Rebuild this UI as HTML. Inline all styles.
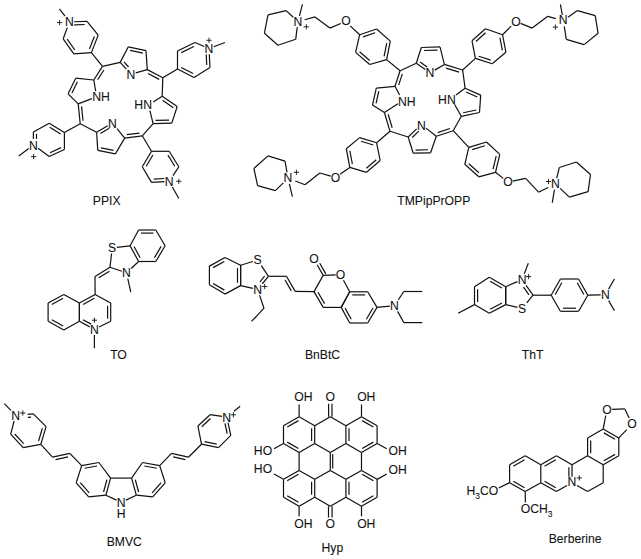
<!DOCTYPE html>
<html><head><meta charset="utf-8"><style>
html,body{margin:0;padding:0;background:#fff;width:641px;height:559px;overflow:hidden}
svg{display:block}
text{font-family:"Liberation Sans",sans-serif}
</style></head><body>
<svg width="641" height="559" viewBox="0 0 641 559">
<g stroke="#111" stroke-width="1.2" stroke-linecap="butt" fill="none">
<line x1="74.1" y1="21.74" x2="87" y2="21.3"/>
<line x1="74.21" y1="24.84" x2="84.64" y2="24.48"/>
<line x1="87" y1="21.3" x2="98.2" y2="35.1"/>
<line x1="98.2" y1="35.1" x2="91.4" y2="52.6"/>
<line x1="94.36" y1="36.43" x2="89.46" y2="49.03"/>
<line x1="91.4" y1="52.6" x2="73.8" y2="53.9"/>
<line x1="73.8" y1="53.9" x2="63.2" y2="38.8"/>
<line x1="74.85" y1="50" x2="67.22" y2="39.13"/>
<line x1="63.2" y1="38.8" x2="67.31" y2="27.6"/>
<line x1="65.05" y1="16.2" x2="59.4" y2="8.8"/>
<path d="M57 22.6H62.2M59.6 20V25.2" stroke-width="0.9"/>
<line x1="91.4" y1="52.6" x2="102.5" y2="66.4"/>
<line x1="93.8" y1="80" x2="75.7" y2="78.2"/>
<line x1="75.7" y1="78.2" x2="68.1" y2="93.8"/>
<line x1="77.42" y1="81.74" x2="71.95" y2="92.97"/>
<line x1="68.1" y1="93.8" x2="78.2" y2="103.9"/>
<line x1="78.2" y1="103.9" x2="91.9" y2="98.61"/>
<line x1="95.65" y1="91.1" x2="93.8" y2="80"/>
<line x1="102.5" y1="66.4" x2="93.8" y2="80"/>
<line x1="103.89" y1="69.97" x2="97.63" y2="79.77"/>
<line x1="78.2" y1="103.9" x2="80.2" y2="123.8"/>
<line x1="81.56" y1="106.38" x2="83" y2="120.7"/>
<line x1="96.6" y1="132.2" x2="107.7" y2="125.67"/>
<line x1="100.38" y1="133.57" x2="109.27" y2="128.34"/>
<line x1="117.01" y1="128.6" x2="124.7" y2="138.1"/>
<line x1="124.7" y1="138.1" x2="115.4" y2="153.9"/>
<line x1="115.4" y1="153.9" x2="97.8" y2="150.4"/>
<line x1="113.54" y1="150.37" x2="100.87" y2="147.85"/>
<line x1="97.8" y1="150.4" x2="96.6" y2="132.2"/>
<line x1="80.2" y1="123.8" x2="96.6" y2="132.2"/>
<line x1="124.7" y1="138.1" x2="142.3" y2="135.8"/>
<line x1="126.76" y1="134.7" x2="139.43" y2="133.05"/>
<line x1="162.2" y1="96.3" x2="177.2" y2="106.5"/>
<line x1="162.56" y1="100.29" x2="173.36" y2="107.64"/>
<line x1="177.2" y1="106.5" x2="171.8" y2="123.1"/>
<line x1="171.8" y1="123.1" x2="153.1" y2="123.6"/>
<line x1="169.1" y1="120.07" x2="155.64" y2="120.43"/>
<line x1="153.1" y1="123.6" x2="149.91" y2="110.7"/>
<line x1="153.2" y1="102.02" x2="162.2" y2="96.3"/>
<line x1="153.1" y1="123.6" x2="142.3" y2="135.8"/>
<line x1="162.2" y1="96.3" x2="162.8" y2="77.8"/>
<line x1="120.2" y1="62.4" x2="128.3" y2="46.8"/>
<line x1="128.3" y1="46.8" x2="146" y2="50.7"/>
<line x1="130.11" y1="50.37" x2="142.85" y2="53.18"/>
<line x1="146" y1="50.7" x2="147.3" y2="69.6"/>
<line x1="147.3" y1="69.6" x2="135.7" y2="72.87"/>
<line x1="126.3" y1="69.06" x2="120.2" y2="62.4"/>
<line x1="128.59" y1="66.97" x2="124" y2="61.96"/>
<line x1="102.5" y1="66.4" x2="120.2" y2="62.4"/>
<line x1="147.3" y1="69.6" x2="162.8" y2="77.8"/>
<line x1="148.02" y1="73.49" x2="159.18" y2="79.39"/>
<line x1="177.5" y1="69" x2="177.5" y2="51"/>
<line x1="177.5" y1="51" x2="195" y2="42.5"/>
<line x1="181.3" y1="52.6" x2="193.9" y2="46.48"/>
<line x1="195" y1="42.5" x2="204.3" y2="46.49"/>
<line x1="209.3" y1="54.2" x2="210" y2="67.5"/>
<line x1="206.2" y1="54.36" x2="206.76" y2="65"/>
<line x1="210" y1="67.5" x2="194" y2="77.5"/>
<line x1="194" y1="77.5" x2="177.5" y2="69"/>
<line x1="193.11" y1="73.55" x2="181.23" y2="67.43"/>
<line x1="162.8" y1="77.8" x2="177.5" y2="69"/>
<line x1="213.7" y1="46.74" x2="225" y2="42.5"/>
<path d="M206.4 40.3H211.6M209 37.7V42.9" stroke-width="0.9"/>
<line x1="64.4" y1="132.6" x2="49.2" y2="123.2"/>
<line x1="60.64" y1="133.92" x2="49.7" y2="127.15"/>
<line x1="49.2" y1="123.2" x2="33.4" y2="132"/>
<line x1="33.4" y1="132" x2="33.4" y2="139.1"/>
<line x1="36.5" y1="133.79" x2="36.5" y2="139.1"/>
<line x1="38.1" y1="148.28" x2="49.2" y2="156.5"/>
<line x1="49.2" y1="156.5" x2="64.4" y2="149.5"/>
<line x1="50.03" y1="152.7" x2="60.98" y2="147.66"/>
<line x1="64.4" y1="149.5" x2="64.4" y2="132.6"/>
<line x1="80.2" y1="123.8" x2="64.4" y2="132.6"/>
<line x1="28.7" y1="148.41" x2="18.8" y2="156"/>
<path d="M31 156.6H36.2M33.6 154V159.2" stroke-width="0.9"/>
<line x1="151.5" y1="151.3" x2="169.2" y2="151.3"/>
<line x1="169.2" y1="151.3" x2="178.8" y2="166.8"/>
<line x1="167.91" y1="155.1" x2="174.82" y2="166.26"/>
<line x1="178.8" y1="166.8" x2="172.97" y2="175.6"/>
<line x1="164.5" y1="181.59" x2="151.5" y2="182.4"/>
<line x1="164.31" y1="178.5" x2="153.79" y2="179.15"/>
<line x1="151.5" y1="182.4" x2="142.3" y2="166.8"/>
<line x1="142.3" y1="166.8" x2="151.5" y2="151.3"/>
<line x1="146.25" y1="166.21" x2="152.88" y2="155.05"/>
<line x1="142.3" y1="135.8" x2="151.5" y2="151.3"/>
<line x1="172.38" y1="187" x2="178.8" y2="198.5"/>
<path d="M176.2 181.3H181.4M178.8 178.7V183.9" stroke-width="0.9"/>
<line x1="416.3" y1="63.2" x2="421.3" y2="47.5"/>
<line x1="421.3" y1="47.5" x2="440" y2="46.9"/>
<line x1="424.02" y1="50.51" x2="437.48" y2="50.08"/>
<line x1="440" y1="46.9" x2="444.4" y2="64.4"/>
<line x1="444.4" y1="64.4" x2="434.7" y2="70.13"/>
<line x1="425.3" y1="69.57" x2="416.3" y2="63.2"/>
<line x1="427.09" y1="67.04" x2="420.01" y2="62.03"/>
<line x1="400.1" y1="70.7" x2="416.3" y2="63.2"/>
<line x1="444.4" y1="64.4" x2="462.6" y2="70"/>
<line x1="446.04" y1="68.15" x2="459.14" y2="72.18"/>
<line x1="465.1" y1="88.2" x2="480.7" y2="95.1"/>
<line x1="466.03" y1="92" x2="477.26" y2="96.97"/>
<line x1="480.7" y1="95.1" x2="479.5" y2="112.5"/>
<line x1="479.5" y1="112.5" x2="461.3" y2="116.3"/>
<line x1="476.32" y1="110" x2="463.21" y2="112.73"/>
<line x1="461.3" y1="116.3" x2="454.5" y2="104.2"/>
<line x1="456" y1="94.99" x2="465.1" y2="88.2"/>
<line x1="462.6" y1="70" x2="465.1" y2="88.2"/>
<line x1="461.3" y1="116.3" x2="453.2" y2="130.7"/>
<line x1="436.3" y1="136.3" x2="430.6" y2="152.8"/>
<line x1="430.6" y1="152.8" x2="413.2" y2="153.2"/>
<line x1="428.09" y1="149.76" x2="415.56" y2="150.04"/>
<line x1="413.2" y1="153.2" x2="408.2" y2="137"/>
<line x1="408.2" y1="137" x2="416.6" y2="128.92"/>
<line x1="412.18" y1="137.47" x2="418.75" y2="131.15"/>
<line x1="426" y1="128.13" x2="436.3" y2="136.3"/>
<line x1="453.2" y1="130.7" x2="436.3" y2="136.3"/>
<line x1="449.86" y1="128.54" x2="437.69" y2="132.57"/>
<line x1="408.2" y1="137" x2="390" y2="131.3"/>
<line x1="395" y1="86.3" x2="376.3" y2="88.2"/>
<line x1="376.3" y1="88.2" x2="372.5" y2="105.1"/>
<line x1="378.79" y1="91.25" x2="376.06" y2="103.41"/>
<line x1="372.5" y1="105.1" x2="384.4" y2="112.5"/>
<line x1="384.4" y1="112.5" x2="397.9" y2="103.75"/>
<line x1="399.59" y1="95" x2="395" y2="86.3"/>
<line x1="400.1" y1="70.7" x2="395" y2="86.3"/>
<line x1="402.33" y1="73.85" x2="398.66" y2="85.08"/>
<line x1="384.4" y1="112.5" x2="390" y2="131.3"/>
<line x1="388.15" y1="114.25" x2="392.19" y2="127.78"/>
<line x1="359.7" y1="34.7" x2="376.6" y2="29"/>
<line x1="363.06" y1="36.84" x2="375.22" y2="32.74"/>
<line x1="376.6" y1="29" x2="390.3" y2="41.1"/>
<line x1="390.3" y1="41.1" x2="386.6" y2="59.6"/>
<line x1="386.74" y1="43.08" x2="384.08" y2="56.4"/>
<line x1="386.6" y1="59.6" x2="369.7" y2="64.5"/>
<line x1="369.7" y1="64.5" x2="355.6" y2="52.4"/>
<line x1="369.74" y1="60.45" x2="359.59" y2="51.74"/>
<line x1="355.6" y1="52.4" x2="359.7" y2="34.7"/>
<line x1="386.6" y1="59.6" x2="400.1" y2="70.7"/>
<line x1="359.7" y1="34.7" x2="350.2" y2="25.87"/>
<line x1="340.8" y1="23.48" x2="329.8" y2="28.1"/>
<line x1="329.8" y1="28.1" x2="315" y2="16.9"/>
<line x1="315" y1="16.9" x2="304.6" y2="19.71"/>
<path d="M303.7 26.8H308.9M306.3 24.2V29.4" stroke-width="0.9"/>
<line x1="299.47" y1="15.8" x2="302.4" y2="4.4"/>
<line x1="293.3" y1="17.19" x2="286.1" y2="10.6"/>
<line x1="286.1" y1="10.6" x2="268" y2="14.8"/>
<line x1="268" y1="14.8" x2="264.4" y2="33.3"/>
<line x1="264.4" y1="33.3" x2="278" y2="45.2"/>
<line x1="278" y1="45.2" x2="295.7" y2="39.3"/>
<line x1="295.7" y1="39.3" x2="297.26" y2="27.2"/>
<line x1="475.4" y1="58.4" x2="472" y2="40.8"/>
<line x1="472" y1="40.8" x2="485.4" y2="28.8"/>
<line x1="475.94" y1="41.43" x2="485.59" y2="32.79"/>
<line x1="485.4" y1="28.8" x2="502.5" y2="34.7"/>
<line x1="502.5" y1="34.7" x2="505.9" y2="52.2"/>
<line x1="499.93" y1="37.74" x2="502.38" y2="50.34"/>
<line x1="505.9" y1="52.2" x2="492.2" y2="63.8"/>
<line x1="492.2" y1="63.8" x2="475.4" y2="58.4"/>
<line x1="490.8" y1="60.09" x2="478.7" y2="56.2"/>
<line x1="462.6" y1="70" x2="475.4" y2="58.4"/>
<line x1="502.5" y1="34.7" x2="511.2" y2="26.13"/>
<line x1="520.6" y1="23.4" x2="532.2" y2="28.1"/>
<line x1="532.2" y1="28.1" x2="547.8" y2="16.3"/>
<line x1="547.8" y1="16.3" x2="555.8" y2="18.57"/>
<path d="M552.8 27.1H558M555.4 24.5V29.7" stroke-width="0.9"/>
<line x1="562.29" y1="15" x2="560.4" y2="4.4"/>
<line x1="568" y1="17.33" x2="577.4" y2="10.6"/>
<line x1="577.4" y1="10.6" x2="595.2" y2="15.6"/>
<line x1="595.2" y1="15.6" x2="598.1" y2="33.3"/>
<line x1="598.1" y1="33.3" x2="584.1" y2="44.6"/>
<line x1="584.1" y1="44.6" x2="566.3" y2="39.3"/>
<line x1="566.3" y1="39.3" x2="564.22" y2="26.4"/>
<line x1="376.6" y1="142.8" x2="380.2" y2="160.5"/>
<line x1="380.2" y1="160.5" x2="366.5" y2="172.3"/>
<line x1="376.26" y1="159.8" x2="366.39" y2="168.3"/>
<line x1="366.5" y1="172.3" x2="349.8" y2="167.4"/>
<line x1="349.8" y1="167.4" x2="346.3" y2="148.7"/>
<line x1="352.36" y1="164.21" x2="349.84" y2="150.75"/>
<line x1="346.3" y1="148.7" x2="359.6" y2="137.6"/>
<line x1="359.6" y1="137.6" x2="376.6" y2="142.8"/>
<line x1="361.07" y1="141.29" x2="373.31" y2="145.04"/>
<line x1="390" y1="131.3" x2="376.6" y2="142.8"/>
<line x1="349.8" y1="167.4" x2="340.1" y2="174.14"/>
<line x1="330.7" y1="176.07" x2="319.8" y2="173"/>
<line x1="319.8" y1="173" x2="305" y2="184.8"/>
<line x1="305" y1="184.8" x2="295.3" y2="180.98"/>
<path d="M293.8 172.3H299M296.4 169.7V174.9" stroke-width="0.9"/>
<line x1="289.35" y1="183.8" x2="292.4" y2="196.7"/>
<line x1="286.99" y1="172.4" x2="285" y2="161.1"/>
<line x1="285" y1="161.1" x2="268" y2="155.9"/>
<line x1="268" y1="155.9" x2="253.9" y2="168.5"/>
<line x1="253.9" y1="168.5" x2="257.6" y2="185.6"/>
<line x1="257.6" y1="185.6" x2="275.4" y2="190.7"/>
<line x1="275.4" y1="190.7" x2="283.3" y2="182.8"/>
<line x1="468.8" y1="147.4" x2="486.5" y2="142"/>
<line x1="472.18" y1="149.61" x2="484.93" y2="145.72"/>
<line x1="486.5" y1="142" x2="499.8" y2="154.4"/>
<line x1="499.8" y1="154.4" x2="495.5" y2="172.3"/>
<line x1="496.18" y1="156.18" x2="493.09" y2="169.07"/>
<line x1="495.5" y1="172.3" x2="478.8" y2="176.8"/>
<line x1="478.8" y1="176.8" x2="464.8" y2="164.3"/>
<line x1="478.9" y1="172.74" x2="468.82" y2="163.74"/>
<line x1="464.8" y1="164.3" x2="468.8" y2="147.4"/>
<line x1="453.2" y1="130.7" x2="468.8" y2="147.4"/>
<line x1="495.5" y1="172.3" x2="503.3" y2="178.35"/>
<line x1="512.7" y1="181.04" x2="525.7" y2="178.4"/>
<line x1="525.7" y1="178.4" x2="538.5" y2="192.2"/>
<line x1="538.5" y1="192.2" x2="548.2" y2="187.44"/>
<path d="M545.9 181.5H551.1M548.5 178.9V184.1" stroke-width="0.9"/>
<line x1="554.46" y1="189.6" x2="552.3" y2="202.6"/>
<line x1="556.76" y1="178.2" x2="559.3" y2="167.5"/>
<line x1="559.3" y1="167.5" x2="576.4" y2="162"/>
<line x1="576.4" y1="162" x2="590.5" y2="174.5"/>
<line x1="590.5" y1="174.5" x2="588.1" y2="191.7"/>
<line x1="588.1" y1="191.7" x2="569.4" y2="197.1"/>
<line x1="569.4" y1="197.1" x2="560.1" y2="188.33"/>
<line x1="130.1" y1="245.8" x2="138.6" y2="230"/>
<line x1="138.6" y1="230" x2="155.8" y2="230"/>
<line x1="141.01" y1="233.1" x2="153.39" y2="233.1"/>
<line x1="155.8" y1="230" x2="165.1" y2="245.8"/>
<line x1="165.1" y1="245.8" x2="155.8" y2="261.5"/>
<line x1="161.13" y1="246.42" x2="154.43" y2="257.72"/>
<line x1="155.8" y1="261.5" x2="138.6" y2="261.5"/>
<line x1="138.6" y1="261.5" x2="130.1" y2="245.8"/>
<line x1="140.14" y1="257.83" x2="134.02" y2="246.52"/>
<line x1="116.9" y1="247.35" x2="130.1" y2="245.8"/>
<line x1="138.6" y1="261.5" x2="131.2" y2="268.47"/>
<line x1="121.8" y1="271.28" x2="110" y2="267.2"/>
<line x1="110" y1="267.2" x2="111.55" y2="253.6"/>
<line x1="127.77" y1="278.6" x2="130.8" y2="292.2"/>
<line x1="110" y1="267.2" x2="95" y2="276.5"/>
<line x1="109.53" y1="271.14" x2="98.73" y2="277.83"/>
<line x1="95" y1="276.5" x2="95.1" y2="294.4"/>
<line x1="95.1" y1="294.4" x2="110.7" y2="303.1"/>
<line x1="110.7" y1="303.1" x2="110.7" y2="321.3"/>
<line x1="107.6" y1="305.65" x2="107.6" y2="318.75"/>
<line x1="110.7" y1="321.3" x2="99.1" y2="327.06"/>
<line x1="89.7" y1="326.86" x2="79.4" y2="321.3"/>
<line x1="91.17" y1="324.13" x2="82.97" y2="319.71"/>
<line x1="79.4" y1="321.3" x2="79.4" y2="303.1"/>
<line x1="79.4" y1="303.1" x2="95.1" y2="294.4"/>
<line x1="83.1" y1="304.59" x2="94.4" y2="298.33"/>
<line x1="79.4" y1="303.1" x2="63.8" y2="294.4"/>
<line x1="63.8" y1="294.4" x2="48.1" y2="303.1"/>
<line x1="63.1" y1="298.33" x2="51.8" y2="304.59"/>
<line x1="48.1" y1="303.1" x2="48.1" y2="321.3"/>
<line x1="48.1" y1="321.3" x2="63.8" y2="330"/>
<line x1="51.8" y1="319.81" x2="63.1" y2="326.07"/>
<line x1="63.8" y1="330" x2="79.4" y2="321.3"/>
<line x1="79.4" y1="321.3" x2="79.4" y2="303.1"/>
<line x1="94.4" y1="335.1" x2="94.4" y2="348.2"/>
<path d="M91.8 320.2H97M94.4 317.6V322.8" stroke-width="0.9"/>
<line x1="240.6" y1="265.3" x2="225" y2="257.5"/>
<line x1="225" y1="257.5" x2="209.4" y2="266.1"/>
<line x1="224.31" y1="261.42" x2="213.08" y2="267.61"/>
<line x1="209.4" y1="266.1" x2="209.4" y2="284.8"/>
<line x1="209.4" y1="284.8" x2="225" y2="294.1"/>
<line x1="213.17" y1="283.44" x2="224.4" y2="290.14"/>
<line x1="225" y1="294.1" x2="240.6" y2="285.6"/>
<line x1="240.6" y1="285.6" x2="240.6" y2="265.3"/>
<line x1="237.5" y1="282.76" x2="237.5" y2="268.14"/>
<line x1="240.6" y1="265.3" x2="252.8" y2="261.47"/>
<line x1="261.35" y1="265.7" x2="268.5" y2="276.3"/>
<line x1="268.5" y1="276.3" x2="262.3" y2="283.75"/>
<line x1="264.59" y1="276.15" x2="259.92" y2="281.77"/>
<line x1="252.9" y1="288.35" x2="240.6" y2="285.6"/>
<line x1="240.6" y1="285.6" x2="240.6" y2="265.3"/>
<line x1="259.54" y1="295.1" x2="264" y2="308.2"/>
<line x1="264" y1="308.2" x2="251.5" y2="321.4"/>
<path d="M262.1 286.5H267.3M264.7 283.9V289.1" stroke-width="0.9"/>
<line x1="268.5" y1="276.3" x2="286.5" y2="276.3"/>
<line x1="286.5" y1="276.3" x2="295.2" y2="291.4"/>
<line x1="285.03" y1="279.96" x2="291.3" y2="290.83"/>
<line x1="295.2" y1="291.4" x2="314" y2="291.6"/>
<line x1="314" y1="291.6" x2="323.2" y2="275.4"/>
<line x1="323.2" y1="275.4" x2="335.7" y2="274.82"/>
<line x1="343.48" y1="280.3" x2="349.7" y2="291.8"/>
<line x1="349.7" y1="291.8" x2="341.2" y2="307.4"/>
<line x1="341.2" y1="307.4" x2="323.2" y2="307.4"/>
<line x1="323.2" y1="307.4" x2="314" y2="291.6"/>
<line x1="324.59" y1="303.63" x2="317.97" y2="292.25"/>
<line x1="323.2" y1="275.4" x2="317.13" y2="264.7"/>
<line x1="325.81" y1="273.92" x2="319.74" y2="263.22"/>
<line x1="349.7" y1="291.8" x2="367.7" y2="291.8"/>
<line x1="352.22" y1="294.9" x2="365.18" y2="294.9"/>
<line x1="367.7" y1="291.8" x2="377" y2="307.4"/>
<line x1="377" y1="307.4" x2="367.7" y2="323"/>
<line x1="373.04" y1="308" x2="366.34" y2="319.23"/>
<line x1="367.7" y1="323" x2="349.7" y2="323"/>
<line x1="349.7" y1="323" x2="341.2" y2="307.4"/>
<line x1="351.23" y1="319.33" x2="345.11" y2="308.1"/>
<line x1="341.2" y1="307.4" x2="349.7" y2="291.8"/>
<line x1="377" y1="307.4" x2="389.8" y2="306.16"/>
<line x1="398.23" y1="300" x2="403.8" y2="291.5"/>
<line x1="403.8" y1="291.5" x2="422.3" y2="291.5"/>
<line x1="397.64" y1="311.4" x2="403.8" y2="322.6"/>
<line x1="403.8" y1="322.6" x2="422.3" y2="322.6"/>
<line x1="474.5" y1="304.6" x2="474.5" y2="286.7"/>
<line x1="477.6" y1="302.09" x2="477.6" y2="289.21"/>
<line x1="474.5" y1="286.7" x2="489.3" y2="277.3"/>
<line x1="489.3" y1="277.3" x2="505.7" y2="286.7"/>
<line x1="490.05" y1="281.31" x2="501.86" y2="288.07"/>
<line x1="505.7" y1="286.7" x2="505.7" y2="304.6"/>
<line x1="505.7" y1="304.6" x2="489.3" y2="313.2"/>
<line x1="501.96" y1="303.06" x2="490.16" y2="309.25"/>
<line x1="489.3" y1="313.2" x2="474.5" y2="304.6"/>
<line x1="458.1" y1="313.2" x2="474.5" y2="304.6"/>
<line x1="505.7" y1="286.7" x2="517.4" y2="281.63"/>
<line x1="526.08" y1="285.3" x2="533" y2="295.2"/>
<line x1="523.54" y1="287.08" x2="528.93" y2="294.79"/>
<line x1="533" y1="295.2" x2="526.77" y2="302.8"/>
<line x1="517.4" y1="307.38" x2="505.7" y2="304.6"/>
<line x1="505.7" y1="304.6" x2="505.7" y2="286.7"/>
<line x1="524.27" y1="273.9" x2="528.3" y2="263.3"/>
<path d="M526 276.6H531.2M528.6 274V279.2" stroke-width="0.9"/>
<line x1="533" y1="295.2" x2="551.2" y2="295.2"/>
<line x1="551.2" y1="295.2" x2="560.4" y2="279"/>
<line x1="555.18" y1="294.46" x2="561.81" y2="282.8"/>
<line x1="560.4" y1="279" x2="578.6" y2="279"/>
<line x1="578.6" y1="279" x2="587.8" y2="295.2"/>
<line x1="577.19" y1="282.8" x2="583.82" y2="294.46"/>
<line x1="587.8" y1="295.2" x2="578.6" y2="311.3"/>
<line x1="578.6" y1="311.3" x2="560.4" y2="311.3"/>
<line x1="576.05" y1="308.2" x2="562.95" y2="308.2"/>
<line x1="560.4" y1="311.3" x2="551.2" y2="295.2"/>
<line x1="587.8" y1="295.2" x2="600.6" y2="294.91"/>
<line x1="608.58" y1="289.1" x2="614.4" y2="279"/>
<line x1="608.58" y1="300.5" x2="614.4" y2="310.6"/>
<line x1="27.6" y1="414.28" x2="33.3" y2="413.8"/>
<line x1="27.86" y1="417.37" x2="31.08" y2="417.1"/>
<line x1="33.3" y1="413.8" x2="46.1" y2="426.7"/>
<line x1="46.1" y1="426.7" x2="40.8" y2="444.4"/>
<line x1="42.39" y1="428.29" x2="38.57" y2="441.03"/>
<line x1="40.8" y1="444.4" x2="23.1" y2="447.6"/>
<line x1="23.1" y1="447.6" x2="10.7" y2="434.2"/>
<line x1="23.64" y1="443.62" x2="14.71" y2="433.97"/>
<line x1="10.7" y1="434.2" x2="14.12" y2="421"/>
<line x1="10.9" y1="410.43" x2="4.3" y2="403.6"/>
<path d="M20.2 413H25.4M22.8 410.4V415.6" stroke-width="0.9"/>
<line x1="40.8" y1="444.4" x2="52.5" y2="457.2"/>
<line x1="52.5" y1="457.2" x2="69.8" y2="453.4"/>
<line x1="55.59" y1="459.7" x2="68.04" y2="456.96"/>
<line x1="69.8" y1="453.4" x2="81.7" y2="465.6"/>
<line x1="81.7" y1="465.6" x2="98.9" y2="462.5"/>
<line x1="84.66" y1="468.22" x2="97.04" y2="465.98"/>
<line x1="98.9" y1="462.5" x2="110.6" y2="478.1"/>
<line x1="110.6" y1="478.1" x2="105.9" y2="495.2"/>
<line x1="106.95" y1="479.67" x2="103.57" y2="491.98"/>
<line x1="105.9" y1="495.2" x2="88.7" y2="496.8"/>
<line x1="88.7" y1="496.8" x2="76.2" y2="482.8"/>
<line x1="89.26" y1="492.78" x2="80.26" y2="482.7"/>
<line x1="76.2" y1="482.8" x2="81.7" y2="465.6"/>
<line x1="110.6" y1="478.1" x2="131.6" y2="478.1"/>
<line x1="105.9" y1="495.2" x2="116.5" y2="500.12"/>
<line x1="125.9" y1="500.09" x2="136.3" y2="495.2"/>
<line x1="131.6" y1="478.1" x2="142.5" y2="462.5"/>
<line x1="142.5" y1="462.5" x2="159.7" y2="465.6"/>
<line x1="144.36" y1="465.98" x2="156.74" y2="468.22"/>
<line x1="159.7" y1="465.6" x2="165.2" y2="482.8"/>
<line x1="165.2" y1="482.8" x2="152.7" y2="496.8"/>
<line x1="161.14" y1="482.7" x2="152.14" y2="492.78"/>
<line x1="152.7" y1="496.8" x2="136.3" y2="495.2"/>
<line x1="136.3" y1="495.2" x2="131.6" y2="478.1"/>
<line x1="138.63" y1="491.98" x2="135.25" y2="479.67"/>
<line x1="159.7" y1="465.6" x2="171.5" y2="453.4"/>
<line x1="171.5" y1="453.4" x2="188.4" y2="457.2"/>
<line x1="173.19" y1="456.96" x2="185.35" y2="459.69"/>
<line x1="188.4" y1="457.2" x2="201.5" y2="444.2"/>
<line x1="201.5" y1="444.2" x2="197.9" y2="426"/>
<line x1="197.9" y1="426" x2="210.1" y2="414.7"/>
<line x1="201.71" y1="426.69" x2="210.5" y2="418.56"/>
<line x1="210.1" y1="414.7" x2="222" y2="416.35"/>
<line x1="227.97" y1="422.7" x2="230.8" y2="435.4"/>
<line x1="224.94" y1="423.37" x2="227.2" y2="433.5"/>
<line x1="230.8" y1="435.4" x2="218.5" y2="447.6"/>
<line x1="218.5" y1="447.6" x2="201.5" y2="444.2"/>
<line x1="216.73" y1="444.08" x2="204.49" y2="441.64"/>
<line x1="234" y1="411.17" x2="240.1" y2="406.3"/>
<path d="M230.8 414.8H236M233.4 412.2V417.4" stroke-width="0.9"/>
<line x1="299.1" y1="416.7" x2="283.5" y2="425.65"/>
<line x1="298.46" y1="420.64" x2="287.23" y2="427.09"/>
<line x1="314.7" y1="425.65" x2="314.7" y2="443.55"/>
<line x1="311.6" y1="428.16" x2="311.6" y2="441.04"/>
<line x1="283.5" y1="443.55" x2="299.1" y2="452.5"/>
<line x1="287.23" y1="442.11" x2="298.46" y2="448.56"/>
<line x1="361.5" y1="416.7" x2="377.1" y2="425.65"/>
<line x1="362.14" y1="420.64" x2="373.37" y2="427.09"/>
<line x1="345.9" y1="425.65" x2="345.9" y2="443.55"/>
<line x1="349" y1="428.16" x2="349" y2="441.04"/>
<line x1="377.1" y1="443.55" x2="361.5" y2="452.5"/>
<line x1="373.37" y1="442.11" x2="362.14" y2="448.56"/>
<line x1="299.1" y1="470.4" x2="283.5" y2="479.35"/>
<line x1="298.46" y1="474.34" x2="287.23" y2="480.79"/>
<line x1="314.7" y1="479.35" x2="314.7" y2="497.25"/>
<line x1="311.6" y1="481.86" x2="311.6" y2="494.74"/>
<line x1="283.5" y1="497.25" x2="299.1" y2="506.2"/>
<line x1="287.23" y1="495.81" x2="298.46" y2="502.26"/>
<line x1="361.5" y1="470.4" x2="377.1" y2="479.35"/>
<line x1="362.14" y1="474.34" x2="373.37" y2="480.79"/>
<line x1="345.9" y1="479.35" x2="345.9" y2="497.25"/>
<line x1="349" y1="481.86" x2="349" y2="494.74"/>
<line x1="377.1" y1="497.25" x2="361.5" y2="506.2"/>
<line x1="373.37" y1="495.81" x2="362.14" y2="502.26"/>
<line x1="330.3" y1="452.5" x2="330.3" y2="470.4"/>
<line x1="332.7" y1="454.29" x2="332.7" y2="468.61"/>
<line x1="299.1" y1="416.7" x2="314.7" y2="425.65"/>
<line x1="314.7" y1="443.55" x2="299.1" y2="452.5"/>
<line x1="283.5" y1="443.55" x2="283.5" y2="425.65"/>
<line x1="330.3" y1="416.7" x2="345.9" y2="425.65"/>
<line x1="345.9" y1="443.55" x2="330.3" y2="452.5"/>
<line x1="330.3" y1="452.5" x2="314.7" y2="443.55"/>
<line x1="314.7" y1="425.65" x2="330.3" y2="416.7"/>
<line x1="377.1" y1="425.65" x2="377.1" y2="443.55"/>
<line x1="361.5" y1="452.5" x2="345.9" y2="443.55"/>
<line x1="345.9" y1="425.65" x2="361.5" y2="416.7"/>
<line x1="330.3" y1="470.4" x2="314.7" y2="479.35"/>
<line x1="314.7" y1="479.35" x2="299.1" y2="470.4"/>
<line x1="299.1" y1="470.4" x2="299.1" y2="452.5"/>
<line x1="361.5" y1="452.5" x2="361.5" y2="470.4"/>
<line x1="361.5" y1="470.4" x2="345.9" y2="479.35"/>
<line x1="345.9" y1="479.35" x2="330.3" y2="470.4"/>
<line x1="314.7" y1="497.25" x2="299.1" y2="506.2"/>
<line x1="283.5" y1="497.25" x2="283.5" y2="479.35"/>
<line x1="345.9" y1="497.25" x2="330.3" y2="506.2"/>
<line x1="330.3" y1="506.2" x2="314.7" y2="497.25"/>
<line x1="377.1" y1="479.35" x2="377.1" y2="497.25"/>
<line x1="361.5" y1="506.2" x2="345.9" y2="497.25"/>
<line x1="299.1" y1="416.7" x2="299.1" y2="404.5"/>
<line x1="361.5" y1="416.7" x2="361.5" y2="404.5"/>
<line x1="299.1" y1="506.2" x2="299.1" y2="516.3"/>
<line x1="361.5" y1="506.2" x2="361.5" y2="516.3"/>
<line x1="283.5" y1="443.55" x2="274" y2="448.8"/>
<line x1="283.5" y1="479.35" x2="274" y2="474"/>
<line x1="377.1" y1="443.55" x2="386.8" y2="448.8"/>
<line x1="377.1" y1="479.35" x2="386.8" y2="474"/>
<line x1="332" y1="416.7" x2="332" y2="403.8"/>
<line x1="328.6" y1="416.7" x2="328.6" y2="403.8"/>
<line x1="328.5" y1="506.2" x2="328.5" y2="517.5"/>
<line x1="332.1" y1="506.2" x2="332.1" y2="517.5"/>
<line x1="525.2" y1="455.8" x2="509.6" y2="464.75"/>
<line x1="524.56" y1="459.74" x2="513.33" y2="466.19"/>
<line x1="509.6" y1="482.65" x2="525.2" y2="491.6"/>
<line x1="513.33" y1="481.21" x2="524.56" y2="487.66"/>
<line x1="509.6" y1="464.75" x2="509.6" y2="482.65"/>
<line x1="525.2" y1="491.6" x2="540.8" y2="482.65"/>
<line x1="540.8" y1="482.65" x2="540.8" y2="464.75"/>
<line x1="540.8" y1="464.75" x2="525.2" y2="455.8"/>
<line x1="540.8" y1="464.75" x2="556.4" y2="455.8"/>
<line x1="544.53" y1="466.19" x2="555.76" y2="459.74"/>
<line x1="556.4" y1="455.8" x2="572" y2="464.75"/>
<line x1="572" y1="464.75" x2="572" y2="476.65"/>
<line x1="568.9" y1="467.26" x2="568.9" y2="476.65"/>
<line x1="567" y1="485.52" x2="556.4" y2="491.6"/>
<line x1="556.4" y1="491.6" x2="540.8" y2="482.65"/>
<line x1="555.76" y1="487.66" x2="544.53" y2="481.21"/>
<line x1="572" y1="464.75" x2="587.6" y2="455.8"/>
<line x1="587.6" y1="455.8" x2="603.2" y2="464.75"/>
<line x1="603.2" y1="464.75" x2="603.2" y2="482.65"/>
<line x1="603.2" y1="482.65" x2="587.6" y2="491.6"/>
<line x1="587.6" y1="491.6" x2="577" y2="485.52"/>
<line x1="587.6" y1="455.8" x2="587.6" y2="437.9"/>
<line x1="590.7" y1="453.29" x2="590.7" y2="440.41"/>
<line x1="587.6" y1="437.9" x2="603.2" y2="428.95"/>
<line x1="603.2" y1="428.95" x2="618.8" y2="437.9"/>
<line x1="603.84" y1="432.89" x2="615.07" y2="439.34"/>
<line x1="618.8" y1="437.9" x2="618.8" y2="455.8"/>
<line x1="618.8" y1="455.8" x2="603.2" y2="464.75"/>
<line x1="615.07" y1="454.36" x2="603.84" y2="460.81"/>
<line x1="603.2" y1="428.95" x2="605.76" y2="415.5"/>
<line x1="612.1" y1="409.33" x2="624.8" y2="408.9"/>
<line x1="624.8" y1="408.9" x2="629.16" y2="418.1"/>
<line x1="626.8" y1="429.54" x2="618.8" y2="437.9"/>
<path d="M576.7 477.9H581.9M579.3 475.3V480.5" stroke-width="0.9"/>
<line x1="509.6" y1="482.65" x2="498.7" y2="488.03"/>
<line x1="525.2" y1="491.6" x2="525.39" y2="502.5"/>
</g>
<g fill="#111" stroke="#111" stroke-width="0.08" font-family="Liberation Sans, sans-serif">
<text x="69.4" y="25.85" text-anchor="middle" font-size="12.2" transform="matrix(1 0 0 1.1 0 -2.14)">N</text>
<text x="92.2" y="100.75" text-anchor="start" font-size="12.2" transform="matrix(1 0 0 1.1 0 -9.63)">NH</text>
<text x="112.4" y="127.65" text-anchor="middle" font-size="12.2" transform="matrix(1 0 0 1.1 0 -12.32)">N</text>
<text x="152" y="108.95" text-anchor="end" font-size="12.2" transform="matrix(1 0 0 1.1 0 -10.45)">HN</text>
<text x="131" y="78.15" text-anchor="middle" font-size="12.2" transform="matrix(1 0 0 1.1 0 -7.37)">N</text>
<text x="209" y="52.45" text-anchor="middle" font-size="12.2" transform="matrix(1 0 0 1.1 0 -4.8)">N</text>
<text x="33.4" y="149.35" text-anchor="middle" font-size="12.2" transform="matrix(1 0 0 1.1 0 -14.49)">N</text>
<text x="169.2" y="185.25" text-anchor="middle" font-size="12.2" transform="matrix(1 0 0 1.1 0 -18.08)">N</text>
<text x="106.7" y="204.45" text-anchor="middle" font-size="12.2" transform="matrix(1 0 0 1.1 0 -20)">PPIX</text>
<text x="430" y="76.85" text-anchor="middle" font-size="12.2" transform="matrix(1 0 0 1.1 0 -7.24)">N</text>
<text x="455.7" y="103.15" text-anchor="end" font-size="12.2" transform="matrix(1 0 0 1.1 0 -9.87)">HN</text>
<text x="421.3" y="129.35" text-anchor="middle" font-size="12.2" transform="matrix(1 0 0 1.1 0 -12.49)">N</text>
<text x="398" y="105.55" text-anchor="start" font-size="12.2" transform="matrix(1 0 0 1.1 0 -10.11)">NH</text>
<text x="346.1" y="25.05" text-anchor="middle" font-size="12.2" transform="matrix(1 0 0 1.1 0 -2.06)">O</text>
<text x="298" y="25.25" text-anchor="middle" font-size="12.2" transform="matrix(1 0 0 1.1 0 -2.08)">N</text>
<text x="515.9" y="25.45" text-anchor="middle" font-size="12.2" transform="matrix(1 0 0 1.1 0 -2.1)">O</text>
<text x="563.2" y="23.85" text-anchor="middle" font-size="12.2" transform="matrix(1 0 0 1.1 0 -1.94)">N</text>
<text x="335.4" y="181.35" text-anchor="middle" font-size="12.2" transform="matrix(1 0 0 1.1 0 -17.69)">O</text>
<text x="288" y="182.05" text-anchor="middle" font-size="12.2" transform="matrix(1 0 0 1.1 0 -17.76)">N</text>
<text x="508" y="185.95" text-anchor="middle" font-size="12.2" transform="matrix(1 0 0 1.1 0 -18.15)">O</text>
<text x="555.4" y="187.85" text-anchor="middle" font-size="12.2" transform="matrix(1 0 0 1.1 0 -18.34)">N</text>
<text x="433.8" y="204.95" text-anchor="middle" font-size="12.2" transform="matrix(1 0 0 1.1 0 -20.05)">TMPipPrOPP</text>
<text x="112.2" y="251.85" text-anchor="middle" font-size="12.2" transform="matrix(1 0 0 1.1 0 -24.74)">S</text>
<text x="126.5" y="276.85" text-anchor="middle" font-size="12.2" transform="matrix(1 0 0 1.1 0 -27.24)">N</text>
<text x="94.4" y="333.35" text-anchor="middle" font-size="12.2" transform="matrix(1 0 0 1.1 0 -32.89)">N</text>
<text x="118.5" y="358.95" text-anchor="middle" font-size="12.2" transform="matrix(1 0 0 1.1 0 -35.45)">TO</text>
<text x="257.5" y="263.95" text-anchor="middle" font-size="12.2" transform="matrix(1 0 0 1.1 0 -25.95)">S</text>
<text x="257.6" y="293.35" text-anchor="middle" font-size="12.2" transform="matrix(1 0 0 1.1 0 -28.89)">N</text>
<text x="313.9" y="262.95" text-anchor="middle" font-size="12.2" transform="matrix(1 0 0 1.1 0 -25.85)">O</text>
<text x="340.4" y="278.55" text-anchor="middle" font-size="12.2" transform="matrix(1 0 0 1.1 0 -27.41)">O</text>
<text x="394.5" y="309.65" text-anchor="middle" font-size="12.2" transform="matrix(1 0 0 1.1 0 -30.52)">N</text>
<text x="322.5" y="358.95" text-anchor="middle" font-size="12.2" transform="matrix(1 0 0 1.1 0 -35.45)">BnBtC</text>
<text x="522.1" y="283.55" text-anchor="middle" font-size="12.2" transform="matrix(1 0 0 1.1 0 -27.91)">N</text>
<text x="522.1" y="312.45" text-anchor="middle" font-size="12.2" transform="matrix(1 0 0 1.1 0 -30.8)">S</text>
<text x="605.3" y="298.75" text-anchor="middle" font-size="12.2" transform="matrix(1 0 0 1.1 0 -29.43)">N</text>
<text x="532.6" y="358.95" text-anchor="middle" font-size="12.2" transform="matrix(1 0 0 1.1 0 -35.45)">ThT</text>
<text x="15.6" y="419.25" text-anchor="middle" font-size="12.2" transform="matrix(1 0 0 1.1 0 -41.48)">N</text>
<text x="121.2" y="506.95" text-anchor="middle" font-size="12.2" transform="matrix(1 0 0 1.1 0 -50.25)">N</text>
<text x="121.2" y="517.85" text-anchor="middle" font-size="12.2" transform="matrix(1 0 0 1.1 0 -51.34)">H</text>
<text x="226.7" y="421.55" text-anchor="middle" font-size="12.2" transform="matrix(1 0 0 1.1 0 -41.71)">N</text>
<text x="124.3" y="545.25" text-anchor="middle" font-size="12.2" transform="matrix(1 0 0 1.1 0 -54.08)">BMVC</text>
<text x="294.35" y="400.45" text-anchor="start" font-size="12.2" transform="matrix(1 0 0 1.1 0 -39.6)">OH</text>
<text x="357.15" y="400.45" text-anchor="start" font-size="12.2" transform="matrix(1 0 0 1.1 0 -39.6)">OH</text>
<text x="294.35" y="527.55" text-anchor="start" font-size="12.2" transform="matrix(1 0 0 1.1 0 -52.31)">OH</text>
<text x="357.15" y="527.55" text-anchor="start" font-size="12.2" transform="matrix(1 0 0 1.1 0 -52.31)">OH</text>
<text x="272.15" y="455.05" text-anchor="end" font-size="12.2" transform="matrix(1 0 0 1.1 0 -45.06)">HO</text>
<text x="272.15" y="473.05" text-anchor="end" font-size="12.2" transform="matrix(1 0 0 1.1 0 -46.86)">HO</text>
<text x="388.45" y="454.35" text-anchor="start" font-size="12.2" transform="matrix(1 0 0 1.1 0 -44.99)">OH</text>
<text x="388.45" y="473.25" text-anchor="start" font-size="12.2" transform="matrix(1 0 0 1.1 0 -46.88)">OH</text>
<text x="330.3" y="400.65" text-anchor="middle" font-size="12.2" transform="matrix(1 0 0 1.1 0 -39.62)">O</text>
<text x="330.3" y="527.55" text-anchor="middle" font-size="12.2" transform="matrix(1 0 0 1.1 0 -52.31)">O</text>
<text x="332.4" y="551.25" text-anchor="middle" font-size="12.2" transform="matrix(1 0 0 1.1 0 -54.68)">Hyp</text>
<text x="606.9" y="413.45" text-anchor="middle" font-size="12.2" transform="matrix(1 0 0 1.1 0 -40.9)">O</text>
<text x="632" y="428.05" text-anchor="middle" font-size="12.2" transform="matrix(1 0 0 1.1 0 -42.36)">O</text>
<text x="572" y="485.2" text-anchor="middle" font-size="12.2" transform="matrix(1 0 0 1.1 0 -48.08)">N</text>
<text x="498.25" y="495.05" text-anchor="end" font-size="12.2" transform="matrix(1 0 0 1.1 0 -49.06)">H<tspan font-size="8.5" dy="3">3</tspan><tspan dy="-3">CO</tspan></text>
<text x="520.75" y="512.95" text-anchor="start" font-size="12.2" transform="matrix(1 0 0 1.1 0 -50.85)">OCH<tspan font-size="8.5" dy="3">3</tspan></text>
<text x="575.1" y="542.15" text-anchor="middle" font-size="12.2" transform="matrix(1 0 0 1.1 0 -53.77)">Berberine</text>
</g>
</svg>
</body></html>
